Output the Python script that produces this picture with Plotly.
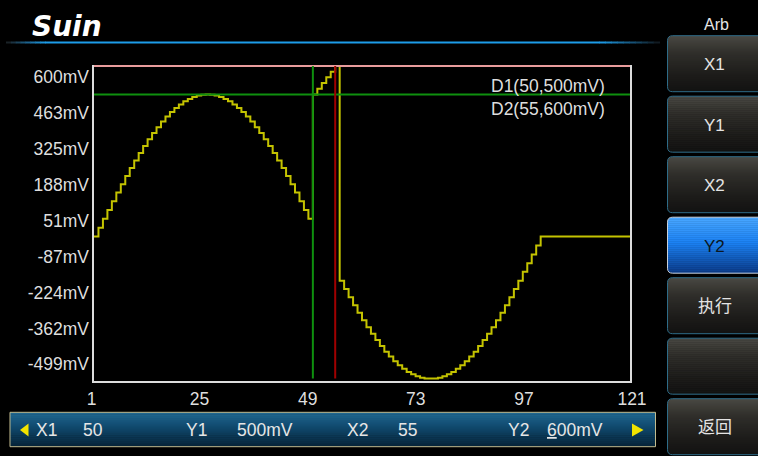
import math
import plotly.graph_objects as go

W, H = 758, 456

# ---------------- data ----------------
point_index = list(range(1, 122))
wave_mv = [
    0, 31, 63, 94, 124, 155, 184, 213, 241, 268,
    294, 319, 342, 364, 385, 405, 422, 438, 452, 465,
    476, 484, 491, 496, 499, 500, 499, 496, 491, 484,
    476, 465, 452, 438, 422, 405, 385, 364, 342, 319,
    294, 268, 241, 213, 184, 155, 124, 94, 63, 500,
    520, 540, 560, 580, 600, -155, -184, -213, -241, -268,
    -294, -319, -342, -364, -385, -405, -422, -438, -452, -465,
    -476, -484, -491, -496, -499, -499, -499, -496, -491, -484,
    -476, -465, -452, -438, -422, -405, -385, -364, -342, -319,
    -294, -268, -241, -213, -184, -155, -124, -94, -63, -31,
    0, 0, 0, 0, 0, 0, 0, 0, 0, 0,
    0, 0, 0, 0, 0, 0, 0, 0, 0, 0, 0,
]
x_tick_vals = [1, 25, 49, 73, 97, 121]
y_tick_mv = [600, 463, 325, 188, 51, -87, -224, -362, -499]

cursor_x1 = 50
cursor_y1 = 500
cursor_x2 = 55
cursor_y2 = 600

side_buttons = ["X1", "Y1", "X2", "Y2", "执行", "", "返回"]
selected_button = "Y2"
mode_label = "Arb"
brand = "Suin"

# ---------------- helpers ----------------
def pxx(x):
    return x / W


def pxy(y):
    return 1 - y / H


def hex2rgb(h):
    h = h.lstrip("#")
    return tuple(int(h[i:i + 2], 16) for i in (0, 2, 4))


def interp(stops, t):
    for (t0, c0), (t1, c1) in zip(stops[:-1], stops[1:]):
        if t <= t1:
            f = 0 if t1 == t0 else (t - t0) / (t1 - t0)
            a, b = hex2rgb(c0), hex2rgb(c1)
            return "rgb(%d,%d,%d)" % tuple(round(a[i] + (b[i] - a[i]) * f) for i in range(3))
    return stops[-1][1]


def pt(x, y):
    return "%.5f,%.5f" % (pxx(x), pxy(y))


def rrect_path(x0, y0, x1, y1, r, open_right=False):
    if open_right:
        return ("M" + pt(x1, y0) + " L" + pt(x0 + r, y0) + " Q" + pt(x0, y0) + " " + pt(x0, y0 + r)
                + " L" + pt(x0, y1 - r) + " Q" + pt(x0, y1) + " " + pt(x0 + r, y1)
                + " L" + pt(x1, y1))
    return ("M" + pt(x0 + r, y0) + " L" + pt(x1 - r, y0) + " Q" + pt(x1, y0) + " " + pt(x1, y0 + r)
            + " L" + pt(x1, y1 - r) + " Q" + pt(x1, y1) + " " + pt(x1 - r, y1)
            + " L" + pt(x0 + r, y1) + " Q" + pt(x0, y1) + " " + pt(x0, y1 - r)
            + " L" + pt(x0, y0 + r) + " Q" + pt(x0, y0) + " " + pt(x0 + r, y0) + " Z")


def inset(y, y0, y1, r):
    if r <= 0:
        return 0
    if y < y0 + r:
        d = y0 + r - y
    elif y > y1 - r:
        d = y - (y1 - r)
    else:
        return 0
    d = min(d, r)
    return r - math.sqrt(max(r * r - d * d, 0))


shapes = []


def grad_rrect(x0, y0, x1, y1, r, stops, border, bw=1, step=2.0, open_right=False):
    h = y1 - y0
    n = max(2, int(math.ceil(h / step)))
    for k in range(n):
        ya = y0 + h * k / n
        yb = min(y0 + h * (k + 1) / n + 0.6, y1)
        col = interp(stops, (k + 0.5) / n)
        ys = [ya + (yb - ya) * j / 3 for j in range(4)]
        ri = (lambda y: 0) if open_right else (lambda y: inset(y, y0, y1, r))
        pts = [(x0 + inset(y, y0, y1, r), y) for y in ys] + \
              [(x1 - ri(y), y) for y in reversed(ys)]
        path = "M" + " L".join(pt(x, y) for x, y in pts) + " Z"
        shapes.append(dict(type="path", xref="paper", yref="paper", path=path,
                           fillcolor=col, line=dict(width=0), layer="above"))
    shapes.append(dict(type="path", xref="paper", yref="paper",
                       path=rrect_path(x0, y0, x1, y1, r, open_right),
                       fillcolor="rgba(0,0,0,0)", line=dict(color=border, width=bw), layer="above"))


# ---------------- figure ----------------
PL, PR, PT, PB = 94, 630, 65, 381          # plot area in px
mv_per_px = 1 / 0.28435
y_range = [-499 - (PB - 378.5) * mv_per_px, 600 + (66 - PT) * mv_per_px]

fig = go.Figure()

fig.add_trace(go.Scatter(
    x=point_index, y=wave_mv, mode="lines", line=dict(color="#c4c300", width=2, shape="hv"),
    hoverinfo="skip", showlegend=False))

# invisible trace for label axes
fig.add_trace(go.Scatter(x=[], y=[], xaxis="x2", yaxis="y2", mode="markers",
                         hoverinfo="skip", showlegend=False))

axis_font = dict(family="Liberation Sans, Arial, sans-serif", size=17.5, color="#dedede")

fig.update_layout(
    width=W, height=H, autosize=False,
    margin=dict(l=0, r=0, t=0, b=0, pad=0, autoexpand=False),
    paper_bgcolor="black", plot_bgcolor="rgba(0,0,0,0)",
    showlegend=False,
    xaxis=dict(domain=[pxx(PL), pxx(PR)], range=[point_index[0], point_index[-1]],
               showgrid=False, zeroline=False, showticklabels=False, ticks="", automargin=False,
               showline=True, linecolor="#dcdcdc", linewidth=2, mirror=False, fixedrange=True),
    yaxis=dict(domain=[pxy(PB), pxy(PT)], range=y_range, automargin=False,
               showgrid=False, zeroline=False, showticklabels=False, ticks="",
               showline=True, linecolor="#dcdcdc", linewidth=2, mirror=True, fixedrange=True),
    xaxis2=dict(domain=[pxx(91.5), pxx(632)], range=[x_tick_vals[0], x_tick_vals[-1]],
                anchor="free", position=pxy(PB), tickmode="array", tickvals=x_tick_vals,
                ticktext=[str(v) for v in x_tick_vals], showgrid=False, zeroline=False,
                showline=False, ticks="", tickfont=axis_font, fixedrange=True, automargin=False,
                ticklabelstandoff=5),
    yaxis2=dict(domain=[pxy(364.3), pxy(77)], range=[y_tick_mv[-1], y_tick_mv[0]],
                anchor="free", position=pxx(PL), side="left", tickmode="array",
                tickvals=y_tick_mv, ticktext=["%dmV" % v for v in y_tick_mv],
                showgrid=False, zeroline=False, showline=False, ticks="",
                ticklabelstandoff=5, automargin=False,
                tickfont=axis_font, fixedrange=True),
)

# ---------------- header ----------------
blue = "#1d9ce8"
segs_l = 8
for k in range(segs_l):
    xa = 6 + (45 - 6) * k / segs_l
    xb = 6 + (45 - 6) * (k + 1) / segs_l + 0.5
    shapes.append(dict(type="line", xref="paper", yref="paper", x0=pxx(xa), x1=pxx(xb),
                       y0=pxy(42.5), y1=pxy(42.5),
                       line=dict(color=interp([(0, "#1a1a1a"), (1, blue)], (k + 0.5) / segs_l), width=2)))
shapes.append(dict(type="line", xref="paper", yref="paper", x0=pxx(45), x1=pxx(600),
                   y0=pxy(42.5), y1=pxy(42.5), line=dict(color=blue, width=2)))
segs_r = 10
for k in range(segs_r):
    xa = 600 + (660 - 600) * k / segs_r - 0.5
    xb = 600 + (660 - 600) * (k + 1) / segs_r
    shapes.append(dict(type="line", xref="paper", yref="paper", x0=pxx(xa), x1=pxx(xb),
                       y0=pxy(42.5), y1=pxy(42.5),
                       line=dict(color=interp([(0, blue), (1, "#101418")], (k + 0.5) / segs_r), width=2)))

annotations = []
annotations.append(dict(text="<b><i>%s</i></b>" % brand, x=pxx(30), y=pxy(26.5), xref="paper", yref="paper",
                        xanchor="left", yanchor="middle", showarrow=False,
                        font=dict(family="DejaVu Sans, sans-serif", size=28, color="white")))
annotations.append(dict(text=mode_label, x=pxx(716.5), y=pxy(24.5), xref="paper", yref="paper",
                        xanchor="center", yanchor="middle", showarrow=False,
                        font=dict(family="Liberation Sans, Arial, sans-serif", size=16, color="#e6e6e6")))

# ---------------- side buttons ----------------
dark_stops = [(0, "#4a4943"), (0.3, "#302f2b"), (0.7, "#1d1c1a"), (1, "#121211")]
sel_stops = [(0, "#4aa8ff"), (0.45, "#1b82f4"), (1, "#0a3a88")]
btn_top0, btn_pitch, btn_h = 35.7, 60.5, 56
for i, lab in enumerate(side_buttons):
    y0 = btn_top0 + i * btn_pitch
    sel = lab == selected_button
    grad_rrect(667.5, y0, W, y0 + btn_h, 5, sel_stops if sel else dark_stops,
               "#c8d0da" if sel else "#2e6c88", bw=1, open_right=True)
    if lab:
        annotations.append(dict(text=lab, x=pxx(714.5), y=pxy(y0 + btn_h / 2 + 1), xref="paper", yref="paper",
                                xanchor="center", yanchor="middle", showarrow=False,
                                font=dict(family="Liberation Sans, Noto Sans CJK SC, sans-serif", size=17,
                                          color="#0c1620" if sel else "#e4e4e4")))

# ---------------- bottom bar ----------------
grad_rrect(10, 412.3, 655.5, 446.7, 0, [(0, "#216992"), (0.45, "#0f476b"), (1, "#052337")],
           "#c2bb8e", bw=1, step=2.0)
shapes.append(dict(type="path", xref="paper", yref="paper",
                   path="M" + pt(20, 430) + " L" + pt(28.5, 423.5) + " L" + pt(28.5, 436.5) + " Z",
                   fillcolor="#f2e400", line=dict(width=0)))
shapes.append(dict(type="path", xref="paper", yref="paper",
                   path="M" + pt(632, 423.5) + " L" + pt(643.5, 430) + " L" + pt(632, 436.5) + " Z",
                   fillcolor="#f2e400", line=dict(width=0)))
bar_items = [("X1", 34), (str(cursor_x1), 81), ("Y1", 184), ("%dmV" % cursor_y1, 235),
             ("X2", 345), (str(cursor_x2), 396), ("Y2", 506),
             ("<u>%s</u>%smV" % (str(cursor_y2)[0], str(cursor_y2)[1:]), 545)]
for txt, xl in bar_items:
    annotations.append(dict(text=txt, x=pxx(xl), y=pxy(430), xref="paper", yref="paper",
                            xanchor="left", yanchor="middle", showarrow=False,
                            font=dict(family="Liberation Sans, Arial, sans-serif", size=17.5, color="#e6e6e6")))

# ---------------- cursors ----------------
wmin = min(wave_mv)
shapes.append(dict(type="line", xref="x", yref="y", x0=point_index[0], x1=point_index[-1],
                   y0=cursor_y1, y1=cursor_y1, line=dict(color="#0e900e", width=2)))
shapes.append(dict(type="line", xref="x", yref="y", x0=point_index[0], x1=point_index[-1],
                   y0=cursor_y2, y1=cursor_y2, line=dict(color="#e89c9c", width=2)))
shapes.append(dict(type="line", xref="x", yref="y", x0=cursor_x1, x1=cursor_x1,
                   y0=wmin, y1=cursor_y2, line=dict(color="#0e900e", width=2)))
shapes.append(dict(type="line", xref="x", yref="y", x0=cursor_x2, x1=cursor_x2,
                   y0=wmin, y1=cursor_y2, line=dict(color="#a00000", width=2)))

annotations.append(dict(text="D1(%d,%dmV)" % (cursor_x1, cursor_y1), x=pxx(607), y=pxy(85.7),
                        xref="paper", yref="paper", xanchor="right", yanchor="middle", showarrow=False,
                        font=dict(family="Liberation Sans, Arial, sans-serif", size=17.5, color="#dedede")))
annotations.append(dict(text="D2(%d,%dmV)" % (cursor_x2, cursor_y2), x=pxx(607), y=pxy(109.3),
                        xref="paper", yref="paper", xanchor="right", yanchor="middle", showarrow=False,
                        font=dict(family="Liberation Sans, Arial, sans-serif", size=17.5, color="#dedede")))

fig.update_layout(shapes=shapes, annotations=annotations)

fig.write_html("out.html", include_plotlyjs=True,
               config={"displayModeBar": False, "staticPlot": True},
               post_script="document.body.style.margin='0';document.body.style.padding='0';"
                           "document.body.style.overflow='hidden';")
